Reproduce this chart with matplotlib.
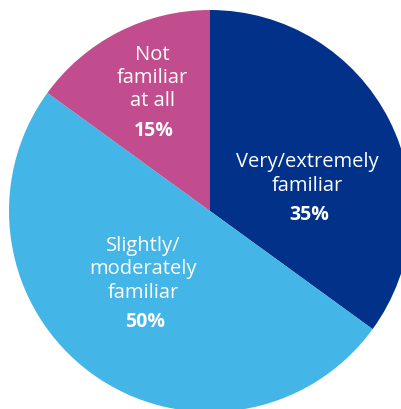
import matplotlib
matplotlib.use("Agg")
import matplotlib.pyplot as plt

# data
labels = [["Very/extremely", "familiar"],
          ["Slightly/", "moderately", "familiar"],
          ["Not", "familiar", "at all"]]
shares = [35, 50, 15]
colors = ["#02318A", "#43B5E6", "#C14D8F"]

# centre of first label line, pie centre at 0,0 (units = pixels)
label_pos = [(97, 51), (-67, -32), (-58, 159)]
line_step = 23.5
pct_gap = 29.5

plt.rcParams['font.family'] = ['Open Sans', 'DejaVu Sans']

fig = plt.figure(figsize=(4.01, 4.09), dpi=100)
ax = fig.add_axes([0, 0, 1, 1])
ax.pie(shares, colors=colors, startangle=90, counterclock=False,
       radius=201, center=(0, 0), wedgeprops=dict(linewidth=0))
ax.set_xlim(-210, 191)
ax.set_ylim(-198, 211)
ax.set_aspect('equal')
ax.axis('off')

for (x, y), lines, val in zip(label_pos, labels, shares):
    for i, line in enumerate(lines):
        ax.text(x, y - i * line_step, line, color="white", fontsize=14.5,
                ha="center", va="center_baseline")
    y_pct = y - (len(lines) - 1) * line_step - pct_gap
    ax.text(x + 2, y_pct, "%d%%" % val, color="white", fontsize=14,
            fontweight="bold", ha="center", va="center_baseline")

fig.savefig("out.png", dpi=100)
